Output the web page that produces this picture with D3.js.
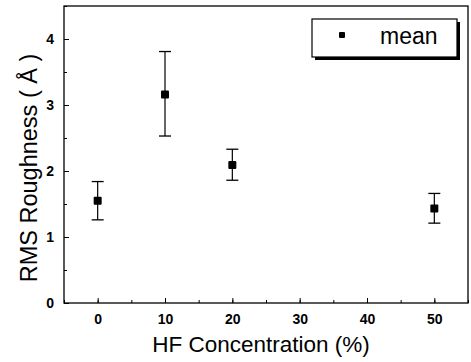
<!DOCTYPE html>
<html><head><meta charset="utf-8">
<script src="https://cdn.jsdelivr.net/npm/d3@7"></script>
<style>body{margin:0;background:#fff}svg{display:block}text{font-family:"Liberation Sans",Arial,sans-serif;fill:#000}</style>
</head><body>
<script>
const concentrations = [0, 10, 20, 50];
const meanValues = [1.55, 3.16, 2.09, 1.43];
const errUpper = [1.84, 3.81, 2.33, 1.66];
const errLower = [1.26, 2.53, 1.86, 1.21];
const xTicks = [0, 10, 20, 30, 40, 50];
const yTicks = [0, 1, 2, 3, 4];
const xLabel = "HF Concentration (%)";
const yLabel = "RMS Roughness ( Å )";
const legendLabel = "mean";

const W = 471, H = 362;
const m = {l: 64, r: 3, t: 6, b: 59};
const svg = d3.select("body").append("svg").attr("width", W).attr("height", H);
const x = d3.scaleLinear().domain([-5, 55]).range([m.l, W - m.r]);
const y = d3.scaleLinear().domain([0, 4.5]).range([H - m.b, m.t]);

// frame
svg.append("rect").attr("x", m.l).attr("y", m.t).attr("width", W - m.r - m.l).attr("height", H - m.b - m.t)
  .attr("fill", "none").attr("stroke", "#000").attr("stroke-width", 1.3);

// x axis
const gx = svg.append("g").attr("transform", `translate(0,${H - m.b})`);
gx.call(d3.axisBottom(x).tickValues(d3.range(-5, 56, 5)).tickSize(-3).tickFormat(""))
  .call(g => g.select(".domain").remove());
const gx2 = svg.append("g").attr("transform", `translate(0,${H - m.b})`);
gx2.call(d3.axisBottom(x).tickValues(xTicks).tickSize(-5).tickFormat(d3.format("d")))
  .call(g => g.select(".domain").remove());
gx2.selectAll("text").attr("font-size", 14).attr("font-weight", "bold").attr("dy", "0.35em").attr("y", 16);

// y axis
const gy = svg.append("g").attr("transform", `translate(${m.l},0)`);
gy.call(d3.axisLeft(y).tickValues(d3.range(0, 4.51, 0.5)).tickSize(-3).tickFormat(""))
  .call(g => g.select(".domain").remove());
const gy2 = svg.append("g").attr("transform", `translate(${m.l},0)`);
gy2.call(d3.axisLeft(y).tickValues(yTicks).tickSize(-5).tickFormat(d3.format("d")))
  .call(g => g.select(".domain").remove());
gy2.selectAll("text").attr("font-size", 14).attr("font-weight", "bold").attr("x", -10);

// labels
svg.append("text").attr("x", 261).attr("y", 352).attr("text-anchor", "middle")
  .attr("font-size", 22.5).text(xLabel);
svg.append("text").attr("transform", `translate(37,168) rotate(-90)`)
  .attr("text-anchor", "middle").attr("font-size", 23.5).text(yLabel);

// data
const data = concentrations.map((c, i) => ({c, m: meanValues[i], hi: errUpper[i], lo: errLower[i]}));
const pts = svg.append("g");
const cap = 6;
pts.selectAll(".eb").data(data).join("line").attr("x1", d => x(d.c)).attr("x2", d => x(d.c))
  .attr("y1", d => y(d.hi)).attr("y2", d => y(d.lo)).attr("stroke", "#000").attr("stroke-width", 1.2);
pts.selectAll(".ct").data(data).join("line").attr("x1", d => x(d.c) - cap).attr("x2", d => x(d.c) + cap)
  .attr("y1", d => y(d.hi)).attr("y2", d => y(d.hi)).attr("stroke", "#000").attr("stroke-width", 1.3);
pts.selectAll(".cb").data(data).join("line").attr("x1", d => x(d.c) - cap).attr("x2", d => x(d.c) + cap)
  .attr("y1", d => y(d.lo)).attr("y2", d => y(d.lo)).attr("stroke", "#000").attr("stroke-width", 1.3);
pts.selectAll("rect").data(data).join("rect").attr("x", d => x(d.c) - 4).attr("y", d => y(d.m) - 4)
  .attr("width", 8).attr("height", 8).attr("rx", 1).attr("fill", "#000");

// legend
const lg = svg.append("g");
lg.append("rect").attr("x", 315).attr("y", 22).attr("width", 145).attr("height", 38).attr("fill", "#000");
lg.append("rect").attr("x", 312).attr("y", 19).attr("width", 145).attr("height", 38).attr("fill", "#fff")
  .attr("stroke", "#000").attr("stroke-width", 1.2);
lg.append("rect").attr("x", 339).attr("y", 32).attr("width", 6).attr("height", 6).attr("rx", 1).attr("fill", "#000");
lg.append("text").attr("x", 380).attr("y", 44).attr("font-size", 23).text(legendLabel);
</script>
</body></html>
